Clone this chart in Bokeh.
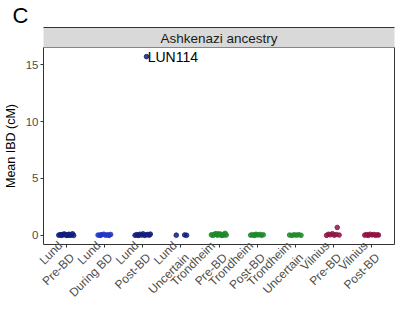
import math
from bokeh.plotting import figure
from bokeh.models import (FactorRange, ColumnDataSource, FixedTicker, LinearAxis)
from bokeh.core.properties import value
from bokeh.embed import file_html
from bokeh.resources import INLINE

# ---------------- data ----------------
categories = ["Lund\nPre-BD", "Lund\nDuring BD", "Lund\nPost-BD", "Lund\nUncertain",
              "Trondheim\nPre-BD", "Trondheim\nPost-BD", "Trondheim\nUncertain",
              "Vilnius\nPre-BD", "Vilnius\nPost-BD"]
group_colors = ["#13207a", "#2535c4", "#13207a", "#13207a",
                "#1f8a2a", "#1f8a2a", "#1f8a2a", "#8e1446", "#8e1446"]

# mean IBD (cM) per individual, with horizontal jitter
lund_pre_y = [0.02, 0.05, 0.0, 0.08, 0.12, 0.03, 0.0, 0.06, 0.1, 0.01, 0.04, 0.14, 0.0, 0.07, 0.02, 0.09]
lund_pre_j = [-0.2, -0.16, -0.12, -0.09, -0.05, -0.02, 0.01, 0.04, 0.07, 0.1, 0.13, 0.16, 0.19, -0.14, 0.05, -0.07]
lund_during_y = [0.03, 0.0, 0.06, 0.1, 0.02, 0.05, 0.0, 0.08, 0.04]
lund_during_j = [-0.17, -0.12, -0.07, -0.02, 0.03, 0.08, 0.12, 0.16, -0.1]
lund_post_y = [0.01, 0.06, 0.0, 0.1, 0.03, 0.13, 0.0, 0.05, 0.08, 0.02, 0.11, 0.04, 15.7]
lund_post_j = [-0.2, -0.16, -0.11, -0.07, -0.03, 0.01, 0.05, 0.09, 0.13, 0.17, 0.2, -0.13, 0.1]
lund_unc_y = [0.02, 0.04, 0.01]
lund_unc_j = [-0.12, 0.1, 0.15]
trond_pre_y = [0.05, 0.0, 0.1, 0.15, 0.02, 0.08, 0.12, 0.0, 0.06, 0.18, 0.03, 0.09, 0.01, 0.13, 0.04]
trond_pre_j = [-0.2, -0.16, -0.12, -0.08, -0.04, 0.0, 0.04, 0.08, 0.12, 0.16, 0.19, -0.1, 0.06, -0.02, 0.14]
trond_post_y = [0.02, 0.06, 0.0, 0.1, 0.04, 0.08, 0.01, 0.05, 0.03]
trond_post_j = [-0.17, -0.12, -0.08, -0.03, 0.02, 0.07, 0.11, 0.16, -0.05]
trond_unc_y = [0.03, 0.0, 0.05, 0.02, 0.06, 0.01]
trond_unc_j = [-0.15, -0.09, -0.03, 0.03, 0.09, 0.15]
viln_pre_y = [0.0, 0.1, 0.05, 0.15, 0.02, 0.08, 0.03, 0.7]
viln_pre_j = [-0.18, -0.13, -0.08, -0.03, 0.02, 0.07, 0.15, 0.1]
viln_post_y = [0.02, 0.07, 0.0, 0.1, 0.04, 0.08, 0.01, 0.05, 0.03]
viln_post_j = [-0.18, -0.13, -0.09, -0.04, 0.01, 0.06, 0.1, 0.15, 0.18]

group_y = [lund_pre_y, lund_during_y, lund_post_y, lund_unc_y,
           trond_pre_y, trond_post_y, trond_unc_y, viln_pre_y, viln_post_y]
group_j = [lund_pre_j, lund_during_j, lund_post_j, lund_unc_j,
           trond_pre_j, trond_post_j, trond_unc_j, viln_pre_j, viln_post_j]

label_text = "LUN114"
label_group = "Lund\nPost-BD"
label_jitter = 0.1
label_value = 15.7

y_ticks = [0, 5, 10, 15]
facet_title = "Ashkenazi ancestry"
panel_letter = "C"
y_title = "Mean IBD (cM)"

FONT = "Liberation Sans"
W, H = 405, 315

# ---------------- figure ----------------
p = figure(width=W, height=H, output_backend="svg", toolbar_location=None,
           x_range=FactorRange(factors=categories, range_padding=0.1,
                               range_padding_units="absolute"),
           y_range=(-0.8, 16.5),
           min_border_left=38, min_border_right=11, min_border_top=0, min_border_bottom=71)
p.background_fill_color = "white"
p.border_fill_color = "white"
p.xgrid.visible = False
p.ygrid.visible = False
p.outline_line_color = "#333333"
p.outline_line_width = 1

# panel letter as the title
p.title.text = panel_letter
p.title.align = "left"
p.title.offset = -31
p.title.text_font = FONT
p.title.text_font_size = "22px"
p.title.text_font_style = "normal"
p.title.text_color = "#000000"
p.title.standoff = 0

xs, ys, cs = [], [], []
for cat, col, yv, jv in zip(categories, group_colors, group_y, group_j):
    for v, j in zip(yv, jv):
        xs.append((cat, j))
        ys.append(v)
        cs.append(col)
src = ColumnDataSource(dict(x=xs, y=ys, c=cs))
p.scatter("x", "y", source=src, size=4.6, color="c", line_color="c", alpha=0.85)

# point label
p.text(x=[(label_group, label_jitter + 0.03)], y=[label_value], text=[label_text],
       text_align="left", text_baseline="middle", text_font=value(FONT),
       text_font_size="14px", text_color="#000000")

# facet strip: an empty top axis carrying the facet title on a grey band
strip = LinearAxis(ticker=FixedTicker(ticks=[]), axis_label=facet_title,
                   axis_label_text_font=FONT, axis_label_text_font_style="normal",
                   axis_label_text_font_size="13.5px", axis_label_text_color="#1a1a1a",
                   axis_label_standoff=2, major_label_standoff=0,
                   major_tick_out=0, major_tick_in=0, minor_tick_out=0, minor_tick_in=0,
                   axis_line_color=None, background_fill_color="#d9d9d9")
p.add_layout(strip, "above")
strip_top = LinearAxis(ticker=FixedTicker(ticks=[]), major_label_standoff=0,
                       major_tick_out=0, major_tick_in=0, minor_tick_out=0, minor_tick_in=0,
                       axis_line_color="#333333")
p.add_layout(strip_top, "above")

# axes
xax = p.below[0]
yax = p.left[0]
yax.ticker = FixedTicker(ticks=y_ticks)
yax.axis_label = y_title
yax.axis_label_text_font = FONT
yax.axis_label_text_font_style = "normal"
yax.axis_label_text_font_size = "12.5px"
yax.axis_label_text_color = "#000000"
yax.axis_label_standoff = 5
for ax in (xax, yax):
    ax.axis_line_color = None
    ax.major_tick_line_color = "#333333"
    ax.major_tick_in = 0
    ax.major_tick_out = 3
    ax.minor_tick_line_color = None
    ax.major_label_text_font = FONT
    ax.major_label_text_font_size = "11.5px"
    ax.major_label_text_color = "#4d4d4d"
    ax.major_label_standoff = 2
xax.major_label_text_font_size = "12px"
xax.major_label_orientation = math.pi / 4

open("out.html", "w").write(file_html(p, INLINE))
